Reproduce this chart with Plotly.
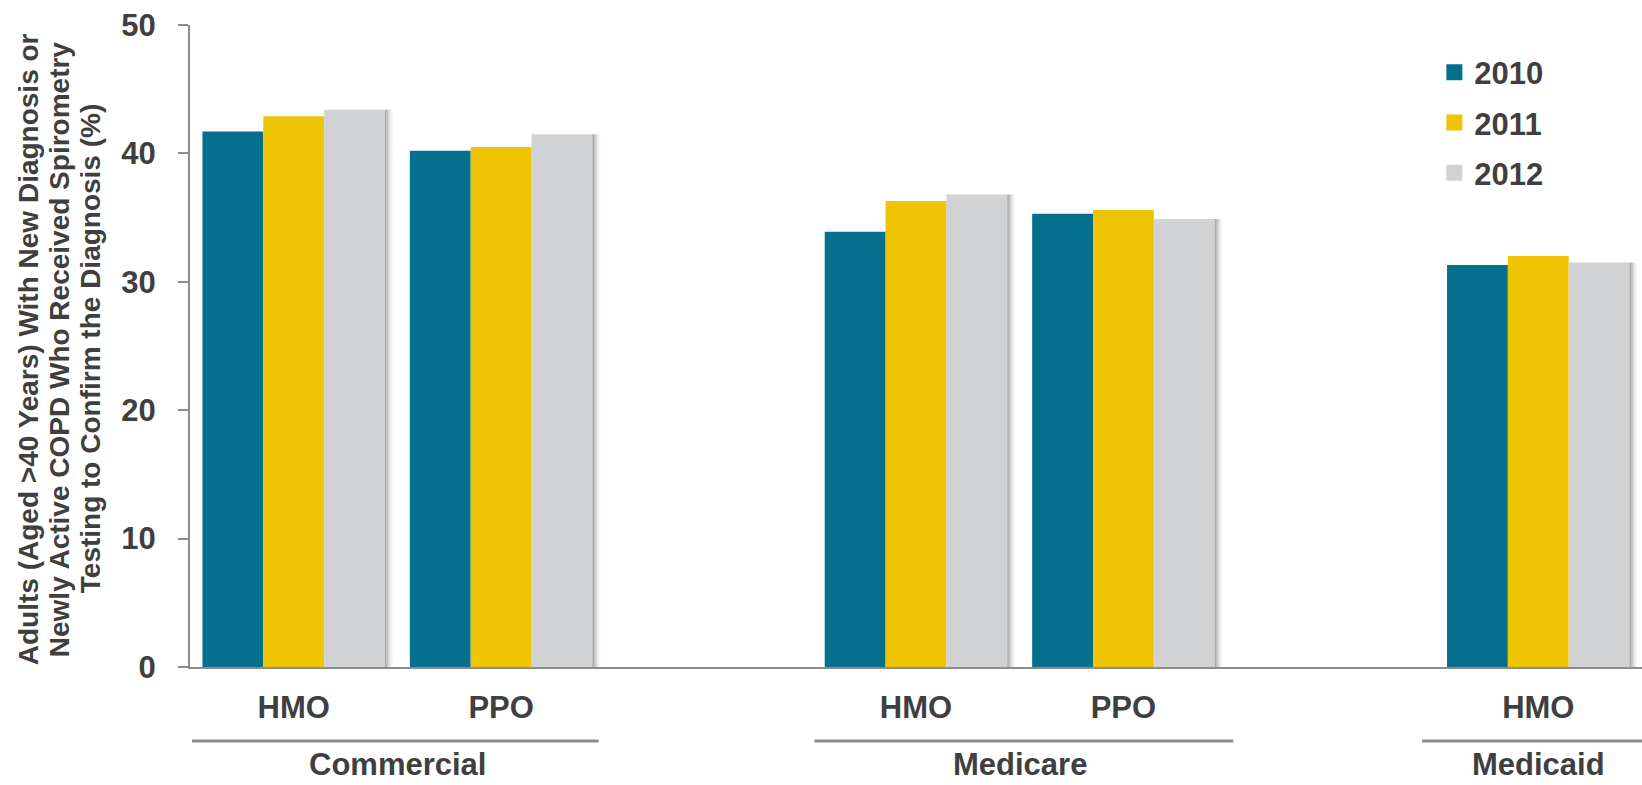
import plotly.graph_objects as go

# Plan types along the x axis; empty slots separate the payer groups
plan_positions = [0, 1, 3, 4, 6]
plan_labels = ["HMO", "PPO", "HMO", "PPO", "HMO"]

years = ["2010", "2011", "2012"]
values_2010 = [41.7, 40.2, 33.9, 35.3, 31.3]
values_2011 = [42.9, 40.5, 36.3, 35.6, 32.0]
values_2012 = [43.4, 41.5, 36.8, 34.9, 31.5]
year_colors = ["#05708E", "#EFC404", "#D1D2D4"]

# Payer groups: label, label centre, and extent of the bracket line below
payer_names = ["Commercial", "Medicare", "Medicaid"]
payer_centers = [0.5, 3.5, 6.0]
payer_spans = [(-0.49, 1.47), (2.51, 4.53), (5.44, 6.5)]

y_title_lines = [
    "Adults (Aged >40 Years) With New Diagnosis or",
    "Newly Active COPD Who Received Spirometry",
    "Testing to Confirm the Diagnosis (%)",
]

TEXT = "#3F3F3F"
AXIS = "#8C8C8C"
FONT = "Liberation Sans, Arial, sans-serif"

fig = go.Figure()

series = [values_2010, values_2011, values_2012]
for name, vals, col in zip(years, series, year_colors):
    fig.add_trace(go.Bar(
        x=plan_positions, y=vals, name=name, marker_color=col,
        marker_line_width=0, showlegend=False, hoverinfo="x+y+name",
    ))

# Soft drop shadow along the right side of each bar group
shadow_alpha = [0.5, 0.36, 0.22, 0.11, 0.04]
strip = 1.6 / 207.4
for k, a in enumerate(shadow_alpha):
    fig.add_trace(go.Bar(
        x=plan_positions, y=values_2012, base=0, xaxis="x2",
        width=strip, offset=0.44 + k * strip,
        marker_color=f"rgba(90,90,90,{a})", marker_line_width=0,
        showlegend=False, hoverinfo="skip",
    ))

# Legend entries with larger square swatches
for name, col in zip(years, year_colors):
    fig.add_trace(go.Scatter(
        x=[None], y=[None], mode="markers", name=name,
        marker=dict(symbol="square", size=16, color=col),
        legendgroup=name, showlegend=True,
    ))

fig.update_layout(
    width=1642, height=785,
    margin=dict(l=190, r=0, t=25, b=118),
    paper_bgcolor="white", plot_bgcolor="white",
    barmode="group", bargap=0.12, bargroupgap=0,
    font=dict(family=FONT, color=TEXT, size=31),
    legend=dict(
        x=0.857, y=0.968, xanchor="left", yanchor="top",
        font=dict(family=FONT, size=31, color=TEXT, weight="bold"),
        itemsizing="trace", tracegroupgap=7, bgcolor="rgba(0,0,0,0)",
    ),
    xaxis=dict(
        range=[-0.5, 6.5], tickmode="array", tickvals=plan_positions,
        ticktext=plan_labels, showgrid=False, zeroline=False,
        showline=True, linecolor=AXIS, linewidth=2, ticks="",
        tickfont=dict(family=FONT, size=31, color=TEXT, weight="bold"),
        ticklabelstandoff=12,
    ),
    xaxis2=dict(range=[-0.5, 6.5], overlaying="x", visible=False),
    yaxis=dict(
        range=[0, 50], dtick=10, showgrid=False, zeroline=False,
        showline=True, linecolor=AXIS, linewidth=2,
        ticks="outside", ticklen=10, tickwidth=2, tickcolor=AXIS,
        tickfont=dict(family=FONT, size=31, color=TEXT, weight="bold"),
        ticklabelstandoff=16,
    ),
)

# Three-line rotated y-axis title, one annotation per line
title_x_px = [28, 59, 90]
plot_w = 1642 - 190
for line, px in zip(y_title_lines, title_x_px):
    fig.add_annotation(
        text=line, textangle=-90, xref="paper", yref="paper",
        x=(px - 190) / plot_w, y=0.495, xanchor="center", yanchor="middle",
        showarrow=False,
        font=dict(family=FONT, size=28, color=TEXT, weight="bold"),
    )

for name, cx, (x0, x1) in zip(payer_names, payer_centers, payer_spans):
    fig.add_shape(type="line", xref="x", yref="paper", x0=x0, x1=x1,
                  y0=-0.1153, y1=-0.1153, line=dict(color=AXIS, width=3))
    fig.add_annotation(
        text=name, xref="x", yref="paper", x=cx, y=-0.152,
        xanchor="center", yanchor="middle", showarrow=False,
        font=dict(family=FONT, size=31, color=TEXT, weight="bold"),
    )

fig.write_html("out.html")
